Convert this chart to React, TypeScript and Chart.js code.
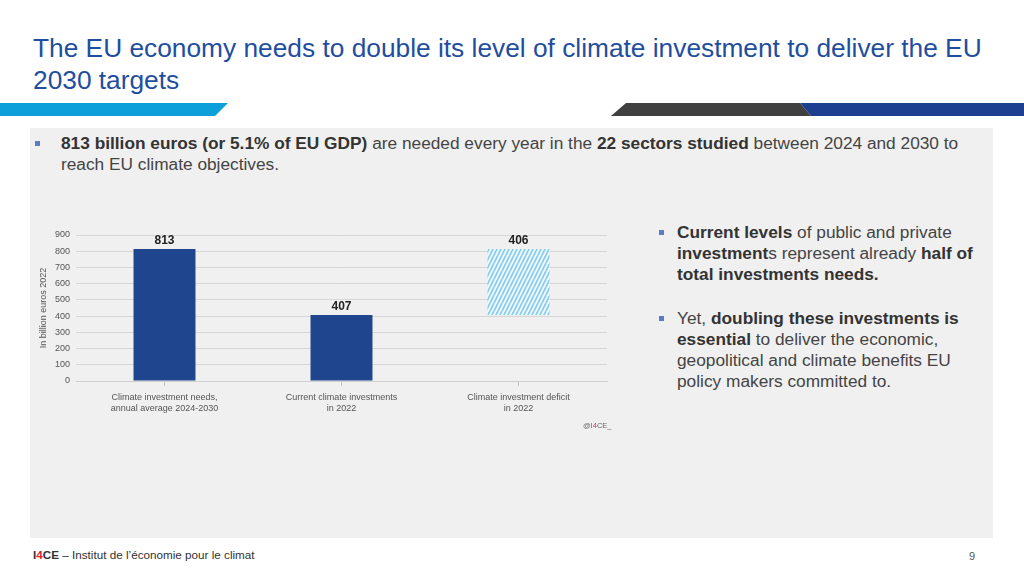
import React, { useEffect, useRef } from "react";
import { Chart, registerables } from "chart.js";

Chart.register(...registerables);

const categories: string[][] = [
  ["Climate investment needs,", "annual average 2024-2030"],
  ["Current climate investments", "in 2022"],
  ["Climate investment deficit", "in 2022"],
];
const barStarts = [0, 0, 407];
const barValues = [813, 407, 406];
const yMin = 0;
const yMax = 900;
const yStep = 100;
const yTitle = "In billion euros 2022";

const FONT = '"Liberation Sans", Arial, Helvetica, sans-serif';

function makeHatch(): CanvasPattern | string {
  const c = document.createElement("canvas");
  const w = 4;
  const h = 8;
  c.width = w;
  c.height = h;
  const g = c.getContext("2d");
  if (!g) return "#8fd3f4";
  g.fillStyle = "#f4fbfe";
  g.fillRect(0, 0, w, h);
  g.strokeStyle = "#86cdf0";
  g.lineWidth = 1.8;
  for (const dx of [-w, 0, w]) {
    g.beginPath();
    g.moveTo(dx, h);
    g.lineTo(dx + w, 0);
    g.stroke();
  }
  const p = g.createPattern(c, "repeat");
  return p || "#8fd3f4";
}

const valueLabels = {
  id: "valueLabels",
  afterDatasetsDraw(chart: any) {
    const ctx = chart.ctx;
    const meta = chart.getDatasetMeta(0);
    meta.data.forEach((bar: any, i: number) => {
      ctx.save();
      ctx.font = `bold 12px ${FONT}`;
      ctx.fillStyle = "#222";
      ctx.textAlign = "center";
      ctx.textBaseline = "alphabetic";
      ctx.fillText(String(barValues[i]), bar.x, bar.y - 5);
      ctx.restore();
    });
  },
};

function BarChart() {
  const ref = useRef<HTMLCanvasElement | null>(null);
  useEffect(() => {
    if (!ref.current) return;
    const hatch = makeHatch();
    const data = barStarts.map((s, i) => [s, s + barValues[i]]);
    const chart = new Chart(ref.current, {
      type: "bar",
      data: {
        labels: categories as any,
        datasets: [
          {
            data: data as any,
            backgroundColor: ["#1f458e", "#1f458e", hatch as any],
            borderWidth: 0,
            barPercentage: 0.35,
            categoryPercentage: 1,
          },
        ],
      },
      options: {
        animation: false,
        responsive: false,
        maintainAspectRatio: false,
        layout: { padding: { top: 20, right: 13, bottom: 0, left: 0 } },
        plugins: { legend: { display: false }, tooltip: { enabled: false } },
        scales: {
          x: {
            grid: {
              display: true,
              drawOnChartArea: false,
              drawTicks: true,
              tickLength: 5,
              offset: false,
              color: "#c4c4c4",
            },
            border: { display: true, color: "#cfcfcf" },
            ticks: {
              color: "#555",
              font: { family: FONT, size: 9, lineHeight: 1.22 },
              padding: 6,
              maxRotation: 0,
              autoSkip: false,
            },
            afterFit: (s: any) => {
              s.height = 54;
            },
          },
          y: {
            min: yMin,
            max: yMax,
            grid: { color: "#d6d6d6", drawTicks: false, lineWidth: 1 },
            border: { display: false },
            ticks: {
              stepSize: yStep,
              color: "#555",
              font: { family: FONT, size: 9 },
              padding: 6,
            },
            title: {
              display: true,
              text: yTitle,
              color: "#555",
              font: { family: FONT, size: 9 },
              padding: { top: 8, bottom: 0 },
            },
            afterFit: (s: any) => {
              s.width = 46;
            },
          },
        },
      },
      plugins: [valueLabels],
    });
    return () => chart.destroy();
  }, []);
  return (
    <canvas
      ref={ref}
      width={590}
      height={220}
      style={{ position: "absolute", left: 30, top: 215, width: 590, height: 220 }}
    />
  );
}

const bulletSq = (left: number, top: number) => (
  <div
    style={{
      position: "absolute",
      left,
      top,
      width: 5,
      height: 5,
      background: "#5a7cc0",
    }}
  />
);

export default function App() {
  const body = { color: "#444", fontFamily: FONT, fontSize: 17.3, lineHeight: "21px" } as React.CSSProperties;
  const b = { fontWeight: 700, color: "#333" } as React.CSSProperties;
  return (
    <div
      style={{
        position: "fixed",
        left: 0,
        top: 0,
        width: 1024,
        height: 573,
        background: "#ffffff",
        overflow: "hidden",
        fontFamily: FONT,
      }}
    >
      <div
        style={{
          position: "absolute",
          left: 33,
          top: 32,
          color: "#1f4e9f",
          fontSize: 26.3,
          lineHeight: "32px",
          whiteSpace: "nowrap",
        }}
      >
        The EU economy needs to double its level of climate investment to deliver the EU
        <br />
        2030 targets
      </div>
      <svg width={1024} height={20} style={{ position: "absolute", left: 0, top: 100 }}>
        <polygon points="0,3 228,3 215,16 0,16" fill="#0c9fd9" />
        <polygon points="626,3 800,3 811,16 611,16" fill="#404040" />
        <polygon points="800,3 1024,3 1024,16 811,16" fill="#1e3f8f" />
      </svg>
      <div
        style={{
          position: "absolute",
          left: 30,
          top: 128,
          width: 963,
          height: 410,
          background: "#f0f0f0",
        }}
      />
      {bulletSq(35, 141)}
      <div style={{ ...body, position: "absolute", left: 61, top: 133, whiteSpace: "nowrap" }}>
        <span style={b}>813 billion euros (or 5.1% of EU GDP)</span> are needed every year in the{" "}
        <span style={b}>22 sectors studied</span> between 2024 and 2030 to
        <br />
        reach EU climate objectives.
      </div>
      <BarChart />
      <div
        style={{
          position: "absolute",
          left: 583,
          top: 421,
          fontSize: 7.5,
          fontFamily: FONT,
          color: "#666",
          whiteSpace: "nowrap",
        }}
      >
        @I<span style={{ color: "#e0306a" }}>4</span>CE_
      </div>
      {bulletSq(659, 230)}
      {bulletSq(659, 316)}
      <div style={{ ...body, position: "absolute", left: 677, top: 222, whiteSpace: "nowrap" }}>
        <span style={b}>Current levels</span> of public and private
        <br />
        <span style={b}>investment</span>s represent already <span style={b}>half of</span>
        <br />
        <span style={b}>total investments needs.</span>
        <br />
        <div style={{ height: 23 }} />
        Yet, <span style={b}>doubling these investments is</span>
        <br />
        <span style={b}>essential</span> to deliver the economic,
        <br />
        geopolitical and climate benefits EU
        <br />
        policy makers committed to.
      </div>
      <div
        style={{
          position: "absolute",
          left: 33,
          top: 548,
          fontSize: 11.7,
          lineHeight: "14px",
          color: "#333",
          whiteSpace: "nowrap",
        }}
      >
        <b>
          I<span style={{ color: "#e0242f" }}>4</span>CE
        </b>{" "}
        – Institut de l’économie pour le climat
      </div>
      <div
        style={{
          position: "absolute",
          left: 969,
          top: 549,
          fontSize: 11,
          lineHeight: "14px",
          color: "#555",
        }}
      >
        9
      </div>
    </div>
  );
}
